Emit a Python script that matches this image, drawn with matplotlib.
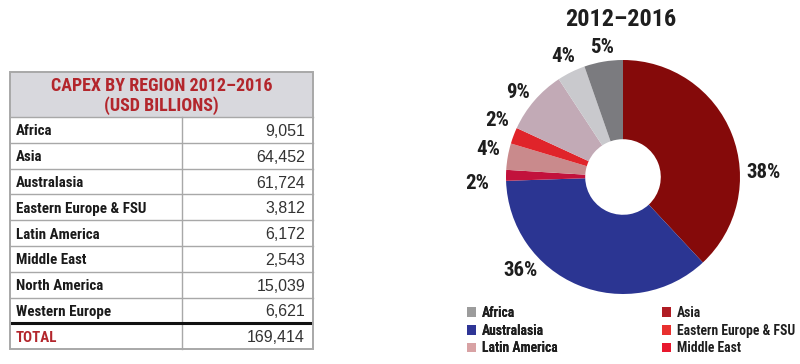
import matplotlib
matplotlib.use("Agg")
import matplotlib.pyplot as plt
from matplotlib.patches import Rectangle, Patch
from matplotlib import font_manager as fm
import numpy as np

# ---------------- data ----------------
regions = ["Africa", "Asia", "Australasia", "Eastern Europe & FSU",
           "Latin America", "Middle East", "North America", "Western Europe"]
capex = [9051, 64452, 61724, 3812, 6172, 2543, 15039, 6621]

pie_order = ["Asia", "Australasia", "Middle East", "Latin America",
             "Eastern Europe & FSU", "North America", "Western Europe", "Africa"]
pie_colors = ["#850a0a", "#2b3592", "#c2123c", "#c98a8c",
              "#e0242a", "#c2aab6", "#c9c9cd", "#7b7b7f"]

legend_left = ["Africa", "Australasia", "Latin America"]
legend_left_colors = ["#9c9c9c", "#2e3596", "#d8a2a4"]
legend_right = ["Asia", "Eastern Europe & FSU", "Middle East"]
legend_right_colors = ["#b01c24", "#e8302e", "#e8182e"]

table_title = "CAPEX BY REGION 2012\u20132016\n(USD BILLIONS)"
pie_title = "2012\u20132016"


# ---------------- fonts ----------------
def _is_bold(e):
    w = e.weight
    try:
        return int(w) >= 600
    except (TypeError, ValueError):
        return str(w).lower() in ("bold", "demibold", "semibold", "heavy", "extra bold", "black")


def pick_narrow_bold():
    entries = fm.fontManager.ttflist
    cands = ["Liberation Sans Narrow", "Roboto Condensed", "Open Sans Condensed",
             "Noto Sans Condensed", "DejaVu Sans Condensed", "Noto Sans Display Condensed"]
    for c in cands:
        for e in entries:
            if e.name == c and _is_bold(e) and e.style == "normal":
                return e.fname
    for e in entries:
        fn = e.fname.lower()
        if ("narrow-bold" in fn or "condensed-bold" in fn or "condensedbold" in fn) \
                and "italic" not in fn and "oblique" not in fn:
            return e.fname
    for e in entries:
        if str(e.stretch) in ("condensed", "semi-condensed", "extra-condensed", "ultra-condensed") \
                and _is_bold(e) and e.style == "normal":
            return e.fname
    return None


_nf = pick_narrow_bold()


def NF(size):
    if _nf:
        return fm.FontProperties(fname=_nf, size=size)
    return fm.FontProperties(family="DejaVu Sans", weight="bold", size=size * 0.82)


def RF(size):
    return fm.FontProperties(family=["Liberation Sans", "DejaVu Sans"], size=size)


W, H = 800, 364
fig = plt.figure(figsize=(W / 100, H / 100), dpi=100)
fig.patch.set_facecolor("white")

# overlay axes in pixel coords (y downward)
ov = fig.add_axes([0, 0, 1, 1])
ov.set_xlim(0, W)
ov.set_ylim(H, 0)
ov.axis("off")

# ---------------- table ----------------
tx0, tx1, tsplit = 10, 313, 182
head_top, head_bot = 72, 117
row_h = 25.8
grid = "#a8a8a8"

ov.add_patch(Rectangle((tx0, head_top), tx1 - tx0, head_bot - head_top,
                       facecolor="#d8d8dd", edgecolor="none", zorder=1))
ov.text((tx0 + tx1) / 2, (head_top + head_bot) / 2 + 1.5, table_title,
        ha="center", va="center", fontproperties=NF(13),
        color="#b3262c", linespacing=1.12, zorder=3)

rows = regions + ["TOTAL"]
vals = capex + [sum(capex)]
for i, (name, v) in enumerate(zip(rows, vals)):
    y0 = head_bot + i * row_h
    yc = y0 + row_h / 2
    is_total = name == "TOTAL"
    ov.text(tx0 + 6, yc + 1.5, name, ha="left", va="center", fontproperties=NF(10.8),
            color="#b3262c" if is_total else "#1a1a1a", zorder=3)
    ov.text(tx1 - 8, yc + 1.5, f"{v:,}", ha="right", va="center", fontproperties=RF(11.5),
            color="#333333", zorder=3)
    if i > 0:
        if is_total:
            ov.plot([tx0, tx1], [y0, y0], color="#111111", lw=2.2, zorder=4,
                    solid_capstyle="butt")
        else:
            ov.plot([tx0, tx1], [y0, y0], color=grid, lw=1, zorder=2)

t_bot = head_bot + len(rows) * row_h
ov.plot([tx0, tx1], [head_bot, head_bot], color=grid, lw=1, zorder=2)
ov.plot([tsplit, tsplit], [head_bot, t_bot], color=grid, lw=1, zorder=2)
ov.add_patch(Rectangle((tx0, head_top), tx1 - tx0, t_bot - head_top,
                       facecolor="none", edgecolor=grid, lw=1.4, zorder=5))

# ---------------- donut ----------------
cx, cy, R = 623, 177, 117
ax = fig.add_axes([(cx - R) / W, (H - cy - R) / H, 2 * R / W, 2 * R / H])

pie_vals = [capex[regions.index(n)] for n in pie_order]
wedges, _ = ax.pie(pie_vals, colors=pie_colors, startangle=90, counterclock=False,
                   radius=1, wedgeprops=dict(width=0.677, edgecolor="none"))
ax.set_xlim(-1, 1)
ax.set_ylim(-1, 1)
ax.set_aspect("equal")
ax.axis("off")

total = sum(pie_vals)
# label placement (layout): angular offset from wedge middle, radial distance
angle_offset = [-19.5, -25, 3.2, -1.3, -3.4, 2.0, 0.3, -0.4]
label_r = [1.205, 1.185, 1.25, 1.177, 1.18, 1.15, 1.147, 1.125]
for i, w in enumerate(wedges):
    mid = (w.theta1 + w.theta2) / 2
    ang = np.deg2rad(mid + angle_offset[i])
    r = label_r[i]
    pct = round(pie_vals[i] / total * 100)
    ax.text(r * np.cos(ang), r * np.sin(ang), f"{pct}%", ha="center", va="center",
            fontproperties=NF(15), color="#1e1e1e", clip_on=False)

ov.text(cx - 2, 19, pie_title, ha="center", va="center", fontproperties=NF(17.5),
        color="#1e1e1e")

# ---------------- legend ----------------
def add_legend(names, colors, x_px):
    handles = [Patch(facecolor=c, edgecolor="none") for c in colors]
    leg = fig.legend(handles, names, ncol=1, loc="upper left",
                     bbox_to_anchor=(x_px / W, 1 - 299 / H), frameon=False,
                     prop=NF(9.8),
                     handlelength=0.7, handleheight=0.7, handletextpad=0.4,
                     labelspacing=0.28, borderpad=0)
    for t in leg.get_texts():
        t.set_color("#1e1e1e")
    return leg


l1 = add_legend(legend_left, legend_left_colors, 460)
fig.add_artist(l1)
add_legend(legend_right, legend_right_colors, 655)

fig.savefig("out.png", dpi=100, facecolor="white")
